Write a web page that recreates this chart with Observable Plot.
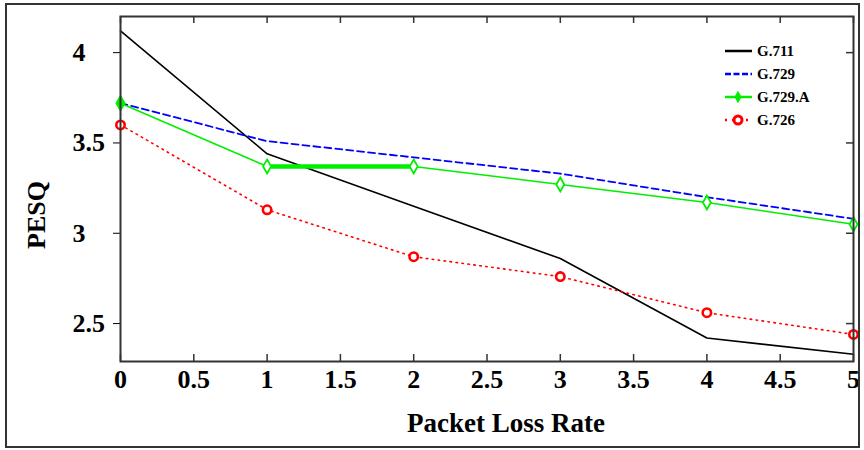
<!DOCTYPE html>
<html>
<head>
<meta charset="utf-8">
<script src="https://cdn.jsdelivr.net/npm/d3@7"></script>
<script src="https://cdn.jsdelivr.net/npm/@observablehq/plot@0.6"></script>
<style>
  body { margin: 0; background: #fff; }
  #wrap { position: relative; width: 864px; height: 450px; overflow: hidden; background: #fff; }
  #border { position: absolute; left: 5px; top: 3px; width: 851px; height: 441px; border: 2px solid #333; pointer-events: none; }
  #legend { position: absolute; left: 715px; top: 36px; }
</style>
</head>
<body>
<div id="wrap"><div id="border"></div></div>
<script>
// Packet loss rate (%) and PESQ scores for each codec
const rates = [0, 1, 2, 3, 4, 5];
const g711  = [4.12, 3.44, 3.15, 2.86, 2.42, 2.33];
const g729  = [3.72, 3.51, 3.42, 3.33, 3.20, 3.08];
const g729a = [3.72, 3.37, 3.37, 3.27, 3.17, 3.05];
const g726  = [3.60, 3.13, 2.87, 2.76, 2.56, 2.44];

const xTicks = [0, 0.5, 1, 1.5, 2, 2.5, 3, 3.5, 4, 4.5, 5];
const yTicks = [2.5, 3, 3.5, 4];

const codecs = ["G.711", "G.729", "G.729.A", "G.726"];
const styles = {
  "G.711":   {stroke: "#000000", width: 1.6, dash: null},
  "G.729":   {stroke: "#0000ff", width: 1.8, dash: "7,4"},
  "G.729.A": {stroke: "#00ee00", width: 1.6, dash: null},
  "G.726":   {stroke: "#ff0000", width: 1.6, dash: "1.5,4.5"}
};

const rows = (name, values) => rates.map((r, i) => ({codec: name, rate: r, pesq: values[i]}));
const s711 = rows("G.711", g711);
const s729 = rows("G.729", g729);
const s729a = rows("G.729.A", g729a);
const s726 = rows("G.726", g726);
// segment of G.729.A between 1% and 2% is drawn heavier
const s729aFlat = s729a.filter(d => d.rate >= 1 && d.rate <= 2);

const lineOf = (data, name, extra = {}) => Plot.line(data, {
  x: "rate", y: "pesq",
  stroke: styles[name].stroke,
  strokeWidth: styles[name].width,
  strokeDasharray: styles[name].dash,
  ...extra
});

const serif = "'Liberation Serif', 'Times New Roman', serif";
const plotH = 450 - 16 - 89;
const plotW = 864 - 120 - 11;

const chart = Plot.plot({
  width: 864,
  height: 450,
  marginLeft: 120,
  marginRight: 11,
  marginTop: 16,
  marginBottom: 89,
  x: {domain: [0, 5]},
  y: {domain: [2.29, 4.2]},
  style: {
    fontFamily: serif,
    fontSize: "26px",
    fontWeight: "bold",
    color: "#000",
    background: "transparent"
  },
  marks: [
    Plot.axisX({
      ticks: xTicks, tickSize: 0, tickPadding: 8,
      tickFormat: d => String(d),
      label: null
    }),
    Plot.axisY({
      ticks: yTicks, tickSize: 7, tickPadding: 41, textAnchor: "start",
      tickFormat: d => String(d),
      label: null
    }),
    Plot.text(["Packet Loss Rate"], {
      frameAnchor: "bottom", text: d => d, lineAnchor: "bottom",
      dx: 19, dy: 70, fontSize: 27, fontWeight: "bold"
    }),
    // inward ticks on bottom, top and right edges
    Plot.tickX(xTicks, {x: d => d, insetTop: plotH - 7, stroke: "#333", strokeWidth: 1.5}),
    Plot.tickX(xTicks, {x: d => d, insetBottom: plotH - 7, stroke: "#333", strokeWidth: 1.5}),
    Plot.tickY(yTicks, {y: d => d, insetLeft: plotW - 7, stroke: "#333", strokeWidth: 1.5}),
    lineOf(s711, "G.711"),
    lineOf(s729, "G.729"),
    lineOf(s729a, "G.729.A"),
    lineOf(s729aFlat, "G.729.A", {strokeWidth: 4.5}),
    lineOf(s726, "G.726"),
    Plot.dot(s729a, {x: "rate", y: "pesq", symbol: "diamond", r: 4.2, stroke: "#00ee00", strokeWidth: 1.8, fill: "#fff"}),
    Plot.dot(s729a.filter(d => d.rate === 0), {x: "rate", y: "pesq", symbol: "diamond", r: 5, fill: "#00ee00"}),
    Plot.dot(s726, {x: "rate", y: "pesq", symbol: "circle", r: 4.2, stroke: "#ff0000", strokeWidth: 2.6, fill: "#fff"}),
    Plot.frame({stroke: "#333", strokeWidth: 2})
  ]
});
document.getElementById("wrap").appendChild(chart);

// vertical axis title
d3.select(chart).append("text")
  .attr("transform", "translate(36,215) rotate(-90)")
  .attr("text-anchor", "middle")
  .attr("dy", "0.35em")
  .attr("fill", "#000")
  .style("font-family", serif)
  .style("font-size", "26px")
  .style("font-weight", "bold")
  .text("PESQ");

// legend
const leg = d3.select("#wrap").append("svg")
  .attr("id", "legend")
  .attr("width", 140).attr("height", 100)
  .style("font-family", serif)
  .style("font-weight", "bold")
  .style("font-size", "15px");
codecs.forEach((name, i) => {
  const y = 15 + i * 23;
  const st = styles[name];
  const g = leg.append("g").attr("transform", `translate(0,${y})`);
  g.append("line").attr("x1", 10).attr("x2", 37).attr("y1", 0).attr("y2", 0)
    .attr("stroke", st.stroke).attr("stroke-width", 2.5)
    .attr("stroke-dasharray", name === "G.729" ? "6,2.5" : name === "G.726" ? "2,5" : null);
  if (name === "G.729.A") {
    g.append("path").attr("d", d3.symbol(d3.symbolDiamond, 45)()).attr("transform", "translate(23,0)").attr("fill", st.stroke);
  }
  if (name === "G.726") {
    g.append("circle").attr("cx", 23).attr("cy", 0).attr("r", 4).attr("fill", "#fff")
      .attr("stroke", st.stroke).attr("stroke-width", 3);
  }
  g.append("text").attr("x", 42).attr("y", 0).attr("dy", "0.35em").attr("fill", "#000").text(name);
});
</script>
</body>
</html>
